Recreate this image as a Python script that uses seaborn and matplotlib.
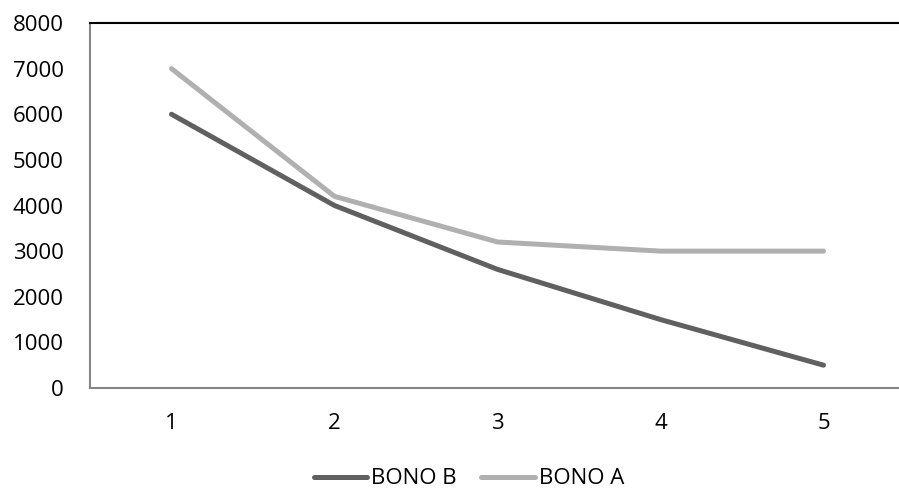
import matplotlib
matplotlib.use("Agg")
import matplotlib.pyplot as plt
import seaborn as sns
import pandas as pd
from matplotlib.lines import Line2D

periods = [1, 2, 3, 4, 5]
bono_b = [6000, 4000, 2600, 1500, 500]
bono_a = [7000, 4200, 3200, 3000, 3000]
series_names = ["BONO B", "BONO A"]
series_colors = ["#606060", "#b0b0b0"]
y_ticks = [0, 1000, 2000, 3000, 4000, 5000, 6000, 7000, 8000]

df = pd.DataFrame({
    "period": periods * 2,
    "value": bono_b + bono_a,
    "series": [series_names[0]] * len(periods) + [series_names[1]] * len(periods),
})

sns.set_theme(style="white")
plt.rcParams["font.family"] = ["Open Sans", "DejaVu Sans"]
plt.rcParams["text.color"] = "black"

fig = plt.figure(figsize=(8.99, 4.91), dpi=100)
ax = fig.add_axes([90 / 899, 1 - 388 / 491, 815 / 899, 365 / 491])

sns.lineplot(data=df, x="period", y="value", hue="series",
             palette=dict(zip(series_names, series_colors)),
             linewidth=3.6, ax=ax, legend=False,
             solid_capstyle="round", solid_joinstyle="round")

ax.set_xlim(0.5, 5.5)
ax.set_ylim(0, 8000)
ax.set_xticks(periods)
ax.set_xticklabels([str(p) for p in periods])
ax.set_yticks(y_ticks)
ax.set_yticklabels([str(t) for t in y_ticks])
ax.tick_params(axis="both", length=0, labelsize=16, colors="black")
ax.tick_params(axis="y", pad=19)
ax.tick_params(axis="x", pad=18)
ax.set_xlabel("")
ax.set_ylabel("")

ax.spines["right"].set_visible(False)
ax.spines["top"].set_color("black")
ax.spines["top"].set_linewidth(1.5)
ax.spines["left"].set_color("#868686")
ax.spines["left"].set_linewidth(1.5)
ax.spines["bottom"].set_color("#868686")
ax.spines["bottom"].set_linewidth(1.5)

handles = [Line2D([0], [0], color=c, linewidth=3.6, solid_capstyle="round")
           for c in series_colors]
leg = fig.legend(handles, series_names, loc="center",
                 bbox_to_anchor=(469 / 899, 1 - 479 / 491),
                 ncol=2, frameon=False, fontsize=16, handlelength=2.4,
                 handletextpad=0.2, columnspacing=1.1)
for t in leg.get_texts():
    t.set_color("black")

fig.savefig("out.png", dpi=100)
